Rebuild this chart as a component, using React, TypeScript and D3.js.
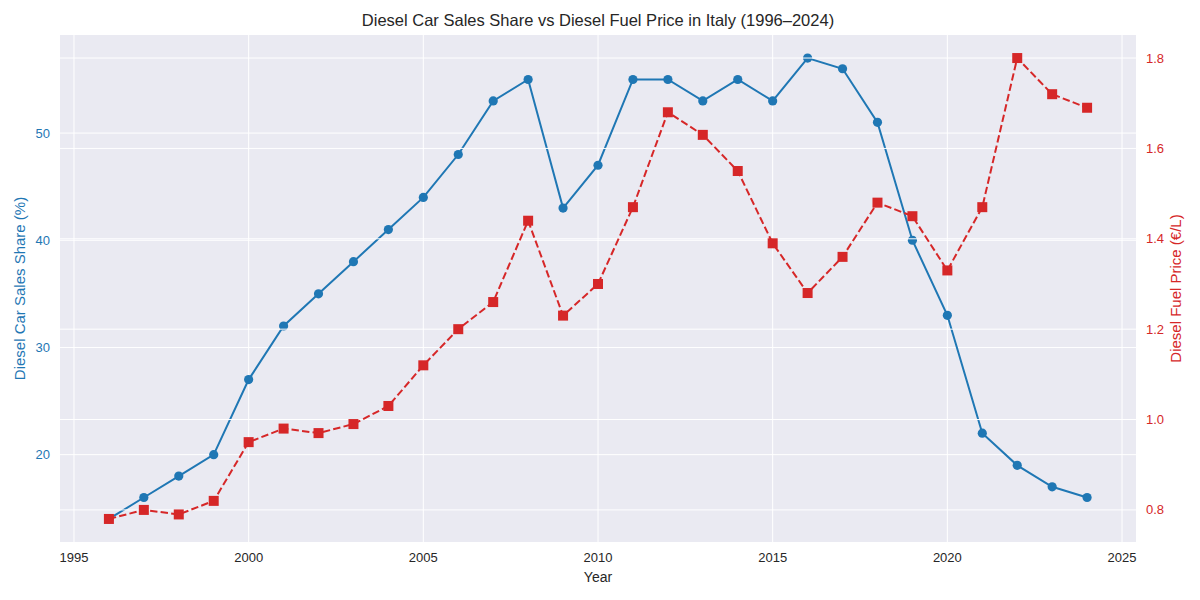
import React from "react";
import * as d3 from "d3";

const years = [1996,1997,1998,1999,2000,2001,2002,2003,2004,2005,2006,2007,2008,2009,2010,2011,2012,2013,2014,2015,2016,2017,2018,2019,2020,2021,2022,2023,2024];
const dieselShare = [14,16,18,20,27,32,35,38,41,44,48,53,55,43,47,55,55,53,55,53,57,56,51,40,33,22,19,17,16];
const fuelPrice = [0.78,0.80,0.79,0.82,0.95,0.98,0.97,0.99,1.03,1.12,1.20,1.26,1.44,1.23,1.30,1.47,1.68,1.63,1.55,1.39,1.28,1.36,1.48,1.45,1.33,1.47,1.80,1.72,1.69];
const xTicks = [1995,2000,2005,2010,2015,2020,2025];
const leftTicks = [20,30,40,50];
const rightTicks = [0.8,1.0,1.2,1.4,1.6,1.8];

const W = 1200, H = 600;
const L = 60, R = 1136, T = 35, B = 542;
const BLUE = "#1f77b4", RED = "#d62728";
const FONT = "'Liberation Sans', Arial, sans-serif";

export default function App() {
  const x = d3.scaleLinear().domain([1994.6, 2025.4]).range([L, R]);
  const yL = d3.scaleLinear().domain([11.85, 59.15]).range([B, T]);
  const yR = d3.scaleLinear().domain([0.729, 1.851]).range([B, T]);
  const lineL = d3.line<number>().x((_, i) => x(years[i])).y(d => yL(d));
  const lineR = d3.line<number>().x((_, i) => x(years[i])).y(d => yR(d));
  return (
    <svg width={W} height={H} style={{ position: "absolute", left: 0, top: 0, fontFamily: FONT }}>
      <rect x={0} y={0} width={W} height={H} fill="#fff" />
      <rect x={L} y={T} width={R - L} height={B - T} fill="#EAEAF2" />
      {xTicks.map(t => (
        <line key={"gx" + t} x1={x(t)} x2={x(t)} y1={T} y2={B} stroke="#fff" strokeWidth={1} />
      ))}
      {leftTicks.map(t => (
        <line key={"gl" + t} x1={L} x2={R} y1={yL(t)} y2={yL(t)} stroke="#fff" strokeWidth={1} />
      ))}
      <path d={lineL(dieselShare) || ""} fill="none" stroke={BLUE} strokeWidth={2} />
      {dieselShare.map((v, i) => (
        <circle key={"c" + i} cx={x(years[i])} cy={yL(v)} r={4.6} fill={BLUE} />
      ))}
      {rightTicks.map(t => (
        <line key={"gr" + t} x1={L} x2={R} y1={yR(t)} y2={yR(t)} stroke="#fff" strokeWidth={1} />
      ))}
      <path d={lineR(fuelPrice) || ""} fill="none" stroke={RED} strokeWidth={2} strokeDasharray="7.4,3.2" />
      {fuelPrice.map((v, i) => (
        <rect key={"s" + i} x={x(years[i]) - 5} y={yR(v) - 5} width={10} height={10} fill={RED} />
      ))}
      {xTicks.map(t => (
        <text key={"tx" + t} x={x(t)} y={B + 20} textAnchor="middle" fontSize={13} fill="#262626">{t}</text>
      ))}
      {leftTicks.map(t => (
        <text key={"tl" + t} x={L - 10} y={yL(t) + 4.5} textAnchor="end" fontSize={13} fill={BLUE}>{t}</text>
      ))}
      {rightTicks.map(t => (
        <text key={"tr" + t} x={R + 10} y={yR(t) + 4.5} textAnchor="start" fontSize={13} fill={RED}>{t.toFixed(1)}</text>
      ))}
      <text x={(L + R) / 2} y={582} textAnchor="middle" fontSize={14} fill="#262626">Year</text>
      <text transform={`translate(25,${(T + B) / 2}) rotate(-90)`} textAnchor="middle" fontSize={15} fill={BLUE}>Diesel Car Sales Share (%)</text>
      <text transform={`translate(1181,${(T + B) / 2}) rotate(-90)`} textAnchor="middle" fontSize={15} fill={RED}>Diesel Fuel Price (€/L)</text>
      <text x={(L + R) / 2} y={26} textAnchor="middle" fontSize={16.5} fill="#262626">Diesel Car Sales Share vs Diesel Fuel Price in Italy (1996–2024)</text>
    </svg>
  );
}
